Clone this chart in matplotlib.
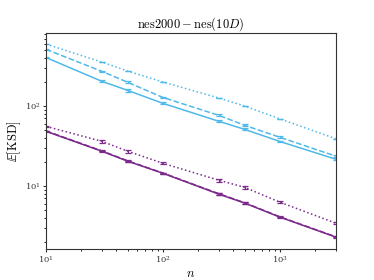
import matplotlib

matplotlib.use("Agg")
import matplotlib.pyplot as plt

plt.rcParams["mathtext.fontset"] = "cm"
plt.rcParams["font.family"] = "serif"
plt.rcParams["font.serif"] = ["DejaVu Serif"]

n = [10, 30, 50, 100, 300, 500, 1000, 3000]

blue_solid = [405, 204, 157, 108, 64.5, 51, 36, 21.6]
blue_dashed = [512, 272, 198, 128, 76.5, 57.4, 40.6, 23.6]
blue_dotted = [596, 355, 274, 200, 126, 100, 69, 39]
blue_err = [8, 5, 5, 3, 2, 1.5, 1, 0.5]

purple_solid = [48.3, 27.2, 20.4, 14.4, 7.9, 6.1, 4.07, 2.29]
purple_dashed = [48.8, 27.5, 20.6, 14.5, 8.0, 6.15, 4.1, 2.31]
purple_dotted = [55.7, 36.2, 27.2, 19.2, 11.8, 9.6, 6.25, 3.42]
purple_err = [1.0, 1.6, 1.4, 0.6, 0.6, 0.5, 0.2, 0.1]

BLUE = "#4fb9ea"
PURPLE = "#7b2a8c"

fig = plt.figure(figsize=(3.74, 2.8), dpi=100)
ax = fig.add_axes([0.123, 0.111, 0.775, 0.771])

kw = dict(lw=1.1, capsize=2, elinewidth=0.9, capthick=0.9)
ax.errorbar(n, blue_solid, yerr=blue_err, color=BLUE, ls="-", **kw)
ax.errorbar(n, blue_dashed, yerr=blue_err, color=BLUE, ls="--", **kw)
ax.errorbar(n, blue_dotted, yerr=[0] * len(n), color=BLUE, ls=":", **kw)
ax.errorbar(n, purple_solid, yerr=[e * 0.3 for e in purple_err], color=PURPLE, ls="-", **kw)
ax.errorbar(n, purple_dashed, yerr=[e * 0.3 for e in purple_err], color=PURPLE, ls="--", **kw)
ax.errorbar(n, purple_dotted, yerr=purple_err, color=PURPLE, ls=":", **kw)

ax.set_xscale("log")
ax.set_yscale("log")
ax.set_xlim(10, 3000)
ax.set_ylim(1.63, 820)
ax.tick_params(labelsize=6, colors="#333333", length=2, pad=2)
ax.tick_params(which="minor", length=1.2)
for s in ax.spines.values():
    s.set_color("#333333")

ax.set_title(r"$\mathrm{nes2000} - \mathrm{nes}(10D)$", fontsize=9, pad=4)
ax.set_xlabel(r"$n$", fontsize=9, labelpad=1)
ax.set_ylabel(r"$\mathbb{E}[\mathrm{KSD}]$", fontsize=9, labelpad=1)

fig.savefig("out.png", dpi=100)
